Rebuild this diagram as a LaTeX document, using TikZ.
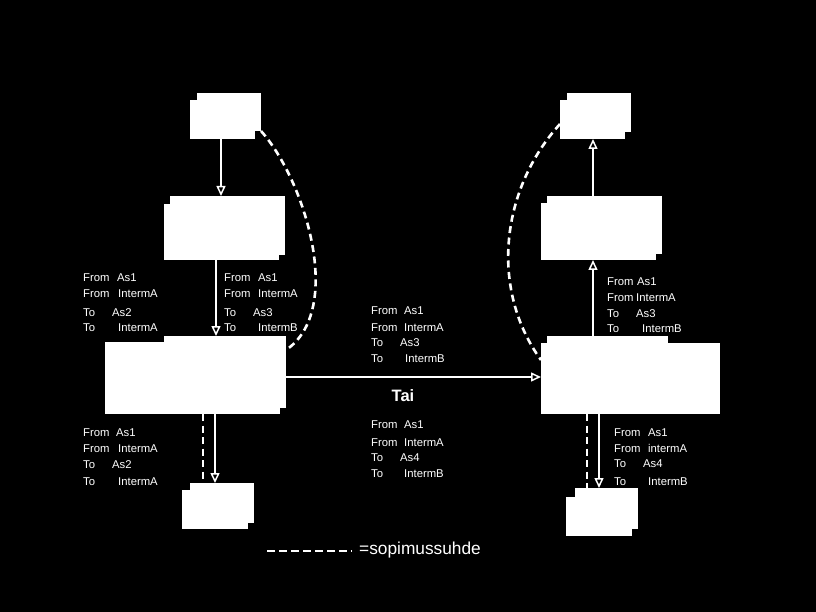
\documentclass[tikz,border=0pt]{standalone}
\usepackage{fontspec}
\setmainfont{Liberation Sans}
\usetikzlibrary{arrows.meta}
\newcommand\tline[6]{\node[lbl] (#1) at (#2,#3) {\makebox[#4pt][l]{#5}#6};}
\begin{document}
\begin{tikzpicture}[x=1pt,y=-1pt,
  wbox/.style={fill=white,draw=none,inner sep=0pt,outer sep=0pt},
  notch/.style={fill=black},
  arr/.style={draw=white,line width=1.7pt,-{Triangle[open,length=10pt,width=9pt,line width=1.5pt]}},
  contract/.style={draw=white,line width=2.6pt,dash pattern=on 7pt off 4.5pt},
  lbl/.style={text=white,anchor=base west,inner sep=0pt,font=\fontsize{11.3}{13}\selectfont},
  tai/.style={text=white,inner sep=0pt,font=\fontsize{16.5}{19}\selectfont\bfseries},
  legend/.style={text=white,anchor=west,inner sep=0pt,font=\fontsize{17.3}{20}\selectfont}]
\fill[black] (0,0) rectangle (816,612);
\useasboundingbox (0,0) rectangle (816,612);

% boxes
\node[wbox,minimum width=71pt,minimum height=46pt] (tl) at (225.5,116) {};
\node[wbox,minimum width=121pt,minimum height=64pt] (l2) at (224.5,228) {};
\node[wbox,minimum width=181pt,minimum height=78pt] (l3) at (195.5,375) {};
\node[wbox,minimum width=72pt,minimum height=46pt] (l4) at (218,506) {};
\node[wbox,minimum width=71pt,minimum height=46pt] (r1) at (595.5,116) {};
\node[wbox,minimum width=121pt,minimum height=64pt] (r2) at (601.5,228) {};
\node[wbox,minimum width=179pt,minimum height=78pt] (r3) at (630.5,375) {};
\node[wbox,minimum width=72pt,minimum height=48pt] (r4) at (602,512) {};

% notches of the stepped boxes
\fill[notch] (190,93) rectangle (197,100);
\fill[notch] (255,131) rectangle (261,139);
\fill[notch] (164,196) rectangle (170,204);
\fill[notch] (279,255) rectangle (285,260);
\fill[notch] (105,336) rectangle (164,342);
\fill[notch] (280,408) rectangle (286,414);
\fill[notch] (182,483) rectangle (190,490);
\fill[notch] (248,523) rectangle (254,529);
\fill[notch] (560,93) rectangle (567,100);
\fill[notch] (625,132) rectangle (631,139);
\fill[notch] (541,196) rectangle (547,203);
\fill[notch] (656,254) rectangle (662,260);
\fill[notch] (541,336) rectangle (547,343);
\fill[notch] (668,336) rectangle (720,343);
\fill[notch] (566,488) rectangle (575,497);
\fill[notch] (632,529) rectangle (638,536);

% connectors
\draw[arr] ([xshift=-4.5pt]tl.south) -- ([xshift=-4.5pt]tl.south |- l2.north);
\draw[arr] ([xshift=-8.5pt]l2.south) -- ([xshift=-8.5pt]l2.south |- l3.north);
\draw[arr] ([xshift=19.5pt]l3.south) -- ([xshift=19.5pt]l3.south |- l4.north);
\draw[contract] ([xshift=7.5pt]l3.south) -- ([xshift=7.5pt]l3.south |- l4.north);
\draw[arr] ([yshift=-2pt]l3.east) -- ([yshift=-2pt]r3.west);
\draw[arr] ([xshift=-37.5pt]r3.north) -- ([xshift=-37.5pt]r3.north |- r2.south);
\draw[arr] ([xshift=-8.5pt]r2.north) -- ([xshift=-8.5pt]r2.north |- r1.south);
\draw[arr] ([xshift=-31.5pt]r3.south) -- ([xshift=-31.5pt]r3.south |- r4.north);
\draw[contract] ([xshift=-43.5pt]r3.south) -- ([xshift=-43.5pt]r3.south |- r4.north);

% contract curves
\draw[contract] ([yshift=8pt]tl.south east) .. controls (305,180) and (345,310) .. ([yshift=-14pt]l3.north east);
\draw[contract] ([yshift=-8pt]r1.west) .. controls (500,190) and (490,290) .. ([yshift=15pt]r3.west);

% labels
\tline{a1}{83}{281}{34}{From}{As1}
\tline{a2}{83}{298}{35}{From}{IntermA}
\tline{a3}{83}{316}{29}{To}{As2}
\tline{a4}{83}{331}{35}{To}{IntermA}

\tline{b1}{224}{281}{34}{From}{As1}
\tline{b2}{224}{298}{34}{From}{IntermA}
\tline{b3}{224}{316}{29}{To}{As3}
\tline{b4}{224}{331}{34}{To}{IntermB}

\tline{c1}{371}{314}{33}{From}{As1}
\tline{c2}{371}{331}{33}{From}{IntermA}
\tline{c3}{371}{346}{29}{To}{As3}
\tline{c4}{371}{362}{34}{To}{IntermB}

\node[tai] (tai) at (403,396) {Tai};

\tline{d1}{371}{428}{33}{From}{As1}
\tline{d2}{371}{446}{33}{From}{IntermA}
\tline{d3}{371}{461}{29}{To}{As4}
\tline{d4}{371}{477}{33}{To}{IntermB}

\tline{e1}{607}{286}{30}{From}{As1}
\tline{e2}{607}{301}{29}{From}{IntermA}
\tline{e3}{607}{317}{29}{To}{As3}
\tline{e4}{607}{332}{35}{To}{IntermB}

\tline{f1}{83}{436}{33}{From}{As1}
\tline{f2}{83}{452}{35}{From}{IntermA}
\tline{f3}{83}{468}{29}{To}{As2}
\tline{f4}{83}{485}{35}{To}{IntermA}

\tline{g1}{614}{436}{34}{From}{As1}
\tline{g2}{614}{452}{34}{From}{intermA}
\tline{g3}{614}{467}{29}{To}{As4}
\tline{g4}{614}{485}{34}{To}{IntermB}

% legend
\coordinate (lg1) at (267,551);
\coordinate (lg2) at (352,551);
\draw[draw=white,line width=2pt,dash pattern=on 8pt off 4pt] (lg1) -- (lg2);
\node[legend] (lgt) at (359,550) {=sopimussuhde};
\end{tikzpicture}
\end{document}
